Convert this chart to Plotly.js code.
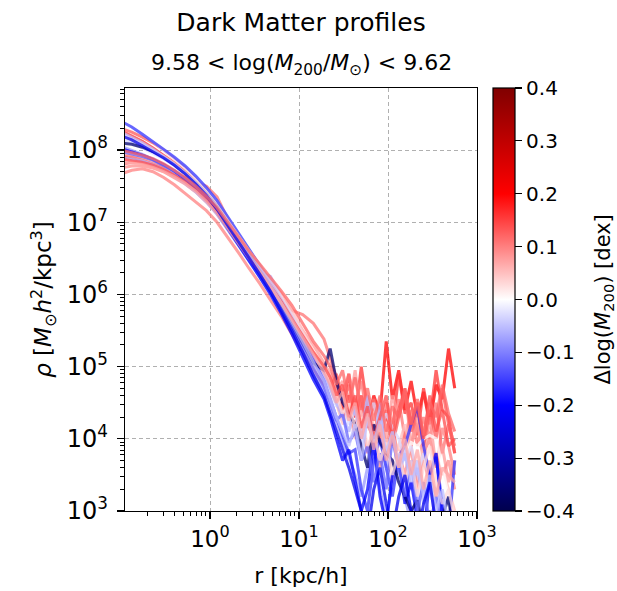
<!DOCTYPE html>
<html>
<head>
<meta charset="utf-8">
<script src="https://cdn.plot.ly/plotly-3.0.1.min.js"></script>
<style>
  html, body { margin: 0; padding: 0; background: #fff; }
  #chart { width: 617px; height: 591px; }
</style>
</head>
<body>
<div id="chart"></div>
<script>
// Radial bins [kpc/h]
const radius = [0.1, 0.132, 0.174, 0.229, 0.302, 0.398, 0.525, 0.692, 0.912, 1.20, 1.58, 2.09, 2.75, 3.63, 4.79, 6.31, 8.32, 11.0, 14.5, 19.1,
                22.4, 26.3, 30.9, 36.3, 42.7, 50.1, 58.9, 69.2, 81.3, 95.5, 112, 132, 155, 182, 214, 251, 295, 347, 407, 479, 562];

// Delta log(M200) of each halo [dex] (sets the line colour)
const deltaLogM = [0.20, 0.16, 0.10, 0.11, 0.08, 0.05, 0.13, 0.09, 0.0, -0.03, -0.06, -0.08, -0.16, -0.20, -0.36, -0.12, 0.03, 0.14, -0.05, 0.07, -0.22, 0.12];

// log10 of density profiles
const logRho01 = [7.92,7.9,7.86,7.81,7.75,7.67,7.58,7.47,7.33,7.17,6.97,6.75,6.55,6.36,6.14,5.9,5.66,5.38,5.1,4.85, 4.7,4.55,4.4,4.6,4.3,4.5,4.2,4.6,4.35,5.35,4.55,4.95,4.4,4.8,4.3,4.65,4.2,4.75,4.55,5.25,4.7];
const logRho02 = [8.27,8.2,8.12,8.03,7.93,7.82,7.7,7.56,7.4,7.22,7.0,6.77,6.56,6.36,6.13,5.88,5.62,5.35,5.08,4.85, 4.6,4.75,4.45,4.9,4.3,5.0,4.4,4.5,4.2,4.3,4.1,4.9,4.35,4.5,4.05,4.7,4.25,4.95,4.4,4.3,3.8];
const logRho03 = [7.67,7.72,7.74,7.7,7.62,7.52,7.4,7.28,7.16,7.0,6.8,6.58,6.36,6.15,5.92,5.7,5.45,5.2,4.95,4.75, 4.6,4.5,4.3,4.45,4.15,4.6,4.2,4.0,4.35,3.9,4.2,3.7,4.1,3.9,4.4,3.8,4.0,3.6,4.15,3.9,3.5];
const logRho04 = [7.8,7.83,7.82,7.79,7.74,7.68,7.62,7.57,7.5,7.35,7.05,6.8,6.55,6.35,6.2,6.0,5.78,5.72,5.6,5.38, 5.1,4.85,4.6,4.9,4.45,4.8,4.3,4.55,4.1,4.5,4.2,4.55,4.0,4.4,3.9,4.3,4.0,4.5,3.8,4.2,3.9];
const logRho05 = [7.95,7.92,7.88,7.83,7.77,7.69,7.6,7.48,7.33,7.16,6.95,6.73,6.52,6.32,6.1,5.9,5.7,5.5,5.3,5.05, 4.9,4.65,4.8,4.4,4.95,4.3,4.6,4.1,4.4,4.0,4.6,4.3,4.7,3.9,4.2,3.7,4.3,3.6,3.9,3.4,3.7];
const logRho06 = [7.85,7.84,7.82,7.78,7.72,7.64,7.55,7.44,7.3,7.14,6.95,6.74,6.55,6.37,6.2,6.02,5.78,5.5,5.2,4.95, 4.7,4.5,4.2,4.4,4.0,4.25,3.85,4.1,3.7,4.0,3.6,3.9,4.2,3.8,3.4,3.9,3.5,3.2,3.6,3.3,3.0];
const logRho07 = [8.3,8.25,8.18,8.1,8.0,7.88,7.75,7.6,7.43,7.25,7.04,6.8,6.58,6.38,6.15,5.9,5.64,5.38,5.12,4.9, 4.7,4.9,4.5,4.75,4.35,4.6,4.15,4.5,4.0,4.4,3.9,4.3,4.6,4.1,4.5,3.9,4.4,4.0,4.7,4.2,3.8];
const logRho08 = [7.75,7.78,7.78,7.75,7.7,7.62,7.53,7.42,7.28,7.12,6.92,6.7,6.5,6.3,6.08,5.85,5.6,5.33,5.05,4.82, 4.55,4.7,4.3,4.5,4.05,4.3,3.8,4.2,3.6,3.9,3.4,3.8,3.5,3.9,3.3,3.7,3.4,3.8,3.5,3.7,3.3];
const logRho09 = [8.45,8.35,8.24,8.12,8.0,7.88,7.75,7.61,7.46,7.29,7.08,6.86,6.64,6.42,6.2,5.96,5.7,5.42,5.12,4.85, 4.6,4.35,4.1,3.85,3.6,3.3,2.9,3.2,2.8,3.3,3.6,3.8,3.7,3.95,3.9,4.0,4.05,4.0,3.6,3.2,2.7];
const logRho10 = [8.15,8.1,8.03,7.96,7.88,7.79,7.68,7.56,7.41,7.24,7.02,6.79,6.58,6.38,6.16,5.93,5.68,5.42,5.15,4.9, 4.65,4.45,4.6,4.2,4.4,3.9,4.3,4.5,4.1,4.35,4.15,4.0,3.7,3.9,3.5,3.8,3.4,3.3,2.9,3.2,2.8];
const logRho11 = [7.9,7.88,7.85,7.8,7.73,7.64,7.54,7.42,7.28,7.11,6.9,6.68,6.48,6.3,6.25,5.95,5.72,5.45,5.15,4.9, 4.7,4.5,4.3,4.1,4.45,4.0,4.6,3.8,4.5,3.6,4.1,3.5,3.8,3.3,3.6,3.1,3.4,2.8,3.1,2.6,2.5];
const logRho12 = [8.05,8.0,7.94,7.87,7.79,7.69,7.58,7.45,7.3,7.12,6.9,6.67,6.45,6.24,6.02,5.78,5.5,5.2,4.9,4.65, 4.4,4.2,3.95,3.75,3.5,3.2,3.6,3.9,3.3,2.9,3.4,3.8,3.2,2.8,3.3,2.7,3.0,2.6,3.1,2.5,2.5];
const logRho13 = [8.4,8.32,8.22,8.12,8.01,7.9,7.78,7.64,7.48,7.3,7.08,6.84,6.62,6.4,6.17,5.93,5.68,5.4,5.1,4.8, 4.55,4.3,4.05,3.8,3.85,3.3,3.0,3.7,4.0,3.6,3.2,3.75,3.9,4.2,4.45,3.9,3.5,3.75,3.1,2.7,3.7];
const logRho14 = [8.02,7.98,7.93,7.87,7.8,7.71,7.6,7.47,7.32,7.14,6.92,6.68,6.46,6.24,6.0,5.74,5.45,5.14,4.82,4.55, 4.3,4.0,3.7,3.85,3.4,3.0,3.3,3.95,3.2,2.8,3.5,3.7,3.1,3.4,2.9,2.6,3.5,3.8,2.9,2.5,2.5];
const logRho15 = [8.1,8.08,8.04,7.98,7.9,7.8,7.68,7.55,7.4,7.22,7.0,6.77,6.55,6.33,6.1,5.85,5.58,5.3,5.05,4.95, 5.25,4.8,4.5,4.35,4.2,3.9,3.6,4.2,3.95,3.8,3.7,3.4,3.2,3.0,3.15,2.7,3.0,2.6,2.9,3.2,2.5];
const logRho16 = [7.98,7.95,7.91,7.86,7.79,7.71,7.61,7.49,7.35,7.18,6.97,6.74,6.52,6.3,6.07,5.82,5.56,5.28,4.98,4.72, 4.5,4.25,4.35,3.95,4.1,3.7,3.9,3.4,3.8,3.3,4.0,3.6,3.2,3.7,3.0,3.4,2.8,3.2,2.7,3.0,2.6];
const logRho17 = [8.2,8.15,8.08,8.0,7.91,7.81,7.69,7.56,7.41,7.23,7.02,6.8,6.6,6.4,6.18,5.95,5.72,5.47,5.22,5.0, 4.8,4.6,4.35,4.5,4.15,4.3,3.9,4.1,3.7,3.95,3.5,3.8,3.4,3.7,3.2,3.6,3.9,3.4,3.1,3.3,2.9];
const logRho18 = [7.88,7.86,7.83,7.79,7.73,7.65,7.56,7.45,7.31,7.15,6.95,6.73,6.52,6.33,6.12,5.9,5.66,5.42,5.2,5.0, 4.85,4.6,4.75,4.3,4.6,4.15,4.45,4.0,4.3,4.6,4.0,4.4,4.7,4.2,4.5,4.0,4.6,4.1,4.4,3.9,4.0];
const logRho19 = [8.25,8.18,8.1,8.01,7.91,7.8,7.68,7.54,7.38,7.2,6.98,6.75,6.54,6.34,6.12,5.88,5.62,5.35,5.06,4.8, 4.55,4.3,4.1,3.9,4.2,3.7,4.3,3.95,4.25,3.8,4.1,3.6,3.9,3.4,3.7,3.2,3.5,3.0,3.3,2.8,2.6];
const logRho20 = [7.82,7.82,7.8,7.76,7.7,7.63,7.54,7.43,7.29,7.12,6.92,6.7,6.5,6.31,6.1,5.88,5.65,5.4,5.15,4.92, 4.75,4.5,4.65,4.25,4.5,4.0,4.35,3.85,4.2,3.7,4.05,3.6,4.0,3.5,3.85,3.3,3.7,3.2,3.6,3.5,3.4];
const logRho21 = [8.2,8.14,8.06,7.98,7.89,7.79,7.67,7.53,7.37,7.18,6.96,6.72,6.5,6.28,6.04,5.78,5.5,5.2,4.88,4.6, 4.35,4.1,3.85,3.6,3.3,3.0,2.7,3.3,3.6,3.1,2.7,3.2,3.5,3.0,2.6,3.1,3.4,2.8,2.5,2.5,2.5];
const logRho22 = [8.0,7.97,7.93,7.88,7.81,7.72,7.62,7.5,7.36,7.2,7.0,6.79,6.6,6.42,6.24,6.05,5.85,5.6,5.35,5.15, 5.0,4.75,4.95,4.5,4.85,4.4,4.7,4.25,4.6,4.1,4.45,4.3,4.65,4.2,4.55,4.05,4.5,4.3,4.75,4.35,4.1];

const profiles = [logRho01, logRho02, logRho03, logRho04, logRho05, logRho06, logRho07, logRho08, logRho09, logRho10, logRho11,
                  logRho12, logRho13, logRho14, logRho15, logRho16, logRho17, logRho18, logRho19, logRho20, logRho21, logRho22];

const xTickVals = [1, 10, 100, 1000];
const xTickText = ['10<sup>0</sup>', '10<sup>1</sup>', '10<sup>2</sup>', '10<sup>3</sup>'];
const yTickVals = [1e3, 1e4, 1e5, 1e6, 1e7, 1e8];
const yTickText = ['10<sup>3</sup>', '10<sup>4</sup>', '10<sup>5</sup>', '10<sup>6</sup>', '10<sup>7</sup>', '10<sup>8</sup>'];
const cbTickVals = [-0.4, -0.3, -0.2, -0.1, 0.0, 0.1, 0.2, 0.3, 0.4];
const cbTickText = ['\u22120.4', '\u22120.3', '\u22120.2', '\u22120.1', '0.0', '0.1', '0.2', '0.3', '0.4'];

// matplotlib "seismic" colormap
const seismicStops = [[0, [0, 0, 77]], [0.25, [0, 0, 255]], [0.5, [255, 255, 255]], [0.75, [255, 0, 0]], [1, [128, 0, 0]]];
const vmin = -0.4, vmax = 0.4;
function seismic(v, a) {
  let t = (v - vmin) / (vmax - vmin);
  t = Math.max(0, Math.min(1, t));
  for (let i = 0; i < seismicStops.length - 1; i++) {
    const [t0, c0] = seismicStops[i], [t1, c1] = seismicStops[i + 1];
    if (t <= t1) {
      const f = (t - t0) / (t1 - t0);
      const c = c0.map((x, k) => Math.round(x + f * (c1[k] - x)));
      return `rgba(${c[0]},${c[1]},${c[2]},${a})`;
    }
  }
  return `rgba(128,0,0,${a})`;
}

const FONT = 'DejaVu Sans, Arial, sans-serif';
const traces = profiles.map((p, i) => ({
  type: 'scatter', mode: 'lines',
  x: radius, y: p.map(v => Math.pow(10, v)),
  line: { color: seismic(deltaLogM[i], 0.75), width: 3 },
  hoverinfo: 'skip', showlegend: false
}));

traces.push({
  type: 'scatter', mode: 'markers', x: [null], y: [null], showlegend: false, hoverinfo: 'skip',
  marker: {
    color: [0], cmin: vmin, cmax: vmax, showscale: true,
    colorscale: seismicStops.map(([t, c]) => [t, `rgb(${c[0]},${c[1]},${c[2]})`]),
    colorbar: {
      x: 1.045, xanchor: 'left', xpad: 0, y: 0.5, yanchor: 'middle', ypad: 0,
      len: 1, lenmode: 'fraction', thickness: 22, thicknessmode: 'pixels',
      outlinewidth: 1.2, outlinecolor: 'black',
      tickmode: 'array', tickvals: cbTickVals, ticktext: cbTickText,
      ticks: 'outside', ticklen: 7, tickwidth: 1.2, tickcolor: 'black',
      tickfont: { family: FONT, size: 20, color: 'black' }
    }
  }
});

const layout = {
  width: 617, height: 591,
  margin: { l: 125, r: 140, t: 88, b: 80 },
  paper_bgcolor: 'white', plot_bgcolor: 'white',
  font: { family: FONT, color: 'black' },
  showlegend: false,
  title: {
    text: 'Dark Matter profiles',
    x: 0.5, xref: 'paper', xanchor: 'center',
    y: 0.962, yref: 'container', yanchor: 'middle',
    font: { family: FONT, size: 25, color: 'black' }
  },
  annotations: [{
    text: '9.58 < log(<i>M</i><sub>200</sub>/<i>M</i><sub>\u2299</sub>) < 9.62',
    xref: 'paper', yref: 'paper', x: 0.5, y: 1, yshift: 24, xanchor: 'center', yanchor: 'middle',
    showarrow: false, font: { family: FONT, size: 22, color: 'black' }
  }, {
    // colour bar label
    text: '\u0394log(<i>M</i><sub>200</sub>) [dex]',
    xref: 'paper', yref: 'paper', x: 1.358, y: 0.5, xanchor: 'center', yanchor: 'middle', textangle: -90,
    showarrow: false, font: { family: FONT, size: 21, color: 'black' }
  }],
  xaxis: {
    type: 'log', range: [-0.955, 3.0],
    showline: true, mirror: true, linecolor: 'black', linewidth: 1.2,
    ticks: 'outside', ticklen: 7, tickwidth: 1.2, tickcolor: 'black',
    tickmode: 'array', tickvals: xTickVals, ticktext: xTickText,
    tickfont: { family: FONT, size: 23, color: 'black' },
    showgrid: true, gridcolor: '#b0b0b0', griddash: '4px,3px', gridwidth: 1,
    minor: { dtick: 'D1', ticks: 'outside', ticklen: 4, tickwidth: 1, tickcolor: 'black', showgrid: false },
    zeroline: false,
    title: { text: 'r [kpc/h]', font: { family: FONT, size: 22, color: 'black' }, standoff: 16 }
  },
  yaxis: {
    type: 'log', range: [3.0, 8.86],
    showline: true, mirror: true, linecolor: 'black', linewidth: 1.2,
    ticks: 'outside', ticklen: 7, tickwidth: 1.2, tickcolor: 'black',
    tickmode: 'array', tickvals: yTickVals, ticktext: yTickText,
    tickfont: { family: FONT, size: 24, color: 'black' },
    ticklabelstandoff: 4,
    showgrid: true, gridcolor: '#b0b0b0', griddash: '4px,3px', gridwidth: 1,
    minor: { dtick: 'D1', ticks: 'outside', ticklen: 4, tickwidth: 1, tickcolor: 'black', showgrid: false },
    zeroline: false,
    title: { text: '<i>\u03c1</i> [<i>M</i><sub>\u2299</sub><i>h</i><sup>2</sup>/kpc<sup>3</sup>]', font: { family: FONT, size: 23, color: 'black' }, standoff: 8 }
  }
};

Plotly.newPlot('chart', traces, layout, { staticPlot: true, displayModeBar: false });
</script>
</body>
</html>
